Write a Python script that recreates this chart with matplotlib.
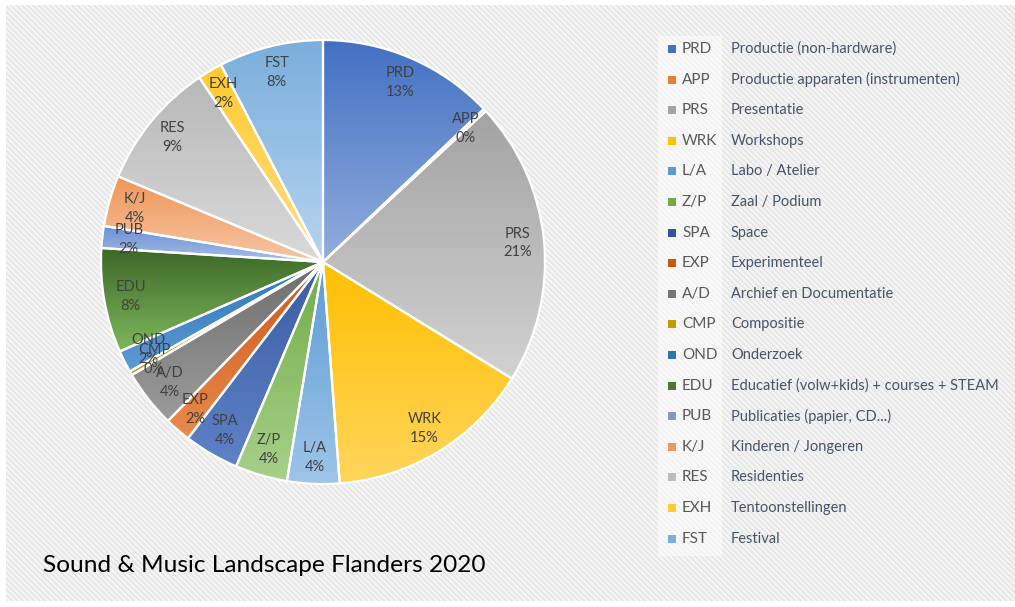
import numpy as np
import matplotlib
matplotlib.use("Agg")
import matplotlib.pyplot as plt
from matplotlib.colors import LinearSegmentedColormap
from matplotlib.patches import Rectangle

plt.rcParams["font.family"] = ["Lato", "DejaVu Sans"]
plt.rcParams["hatch.linewidth"] = 0.7

# ---------- DATA ----------
codes = ["PRD", "APP", "PRS", "WRK", "L/A", "Z/P", "SPA", "EXP", "A/D",
         "CMP", "OND", "EDU", "PUB", "K/J", "RES", "EXH", "FST"]
descriptions = [
    "Productie (non-hardware)",
    "Productie apparaten (instrumenten)",
    "Presentatie",
    "Workshops",
    "Labo / Atelier",
    "Zaal / Podium",
    "Space",
    "Experimenteel",
    "Archief en Documentatie",
    "Compositie",
    "Onderzoek",
    "Educatief (volw+kids) + courses + STEAM",
    "Publicaties (papier, CD...)",
    "Kinderen / Jongeren",
    "Residenties",
    "Tentoonstellingen",
    "Festival",
]
shares = [12.9, 0.2, 20.7, 15.0, 3.8, 3.8, 4.0, 1.9, 4.2,
          0.3, 1.6, 7.6, 1.6, 3.7, 9.3, 1.8, 7.6]
title = "Sound & Music Landscape Flanders 2020"

# Excel-ish palette: (top of gradient, bottom of gradient)
top_colors = ["#4270c2", "#e2772c", "#a3a3a3", "#ffbf00", "#5b9bd5", "#6fac46",
              "#3a5ba3", "#c8591a", "#6e6e6e", "#9f7800", "#2e75b6", "#3c6727",
              "#6b8fd1", "#ef9658", "#b8b8b8", "#ffca2e", "#7aaedc"]
bot_colors = ["#93aede", "#f4a470", "#d2d2d2", "#ffd55c", "#9fc5e8", "#a8d18b",
              "#5e82c8", "#ea8a4a", "#9c9c9c", "#c99e1c", "#5d9bd6", "#7db85c",
              "#a7bfea", "#f7c6a4", "#dadada", "#ffdf85", "#b6d5ef"]
legend_colors = ["#4472c4", "#ed7d31", "#a5a5a5", "#ffc000", "#5b9bd5", "#70ad47",
                 "#2f55a0", "#c55a11", "#757575", "#c99a00", "#2e75b6", "#4a7a30",
                 "#7a9ad6", "#f1975a", "#bdbdbd", "#ffcd33", "#7cafdd"]

W, H = 1015, 607
fig = plt.figure(figsize=(W / 100, H / 100), dpi=100)
fig.patch.set_facecolor("white")

# ---------- BACKGROUND (pixel coords) ----------
bg = fig.add_axes([0, 0, 1, 1], zorder=0)
bg.set_xlim(0, W)
bg.set_ylim(H, 0)
bg.axis("off")
bg.add_patch(Rectangle((6, 5), W - 6, H - 11, facecolor="#f4f4f4",
                       edgecolor="#dedede", hatch="\\" * 6, linewidth=0))
# lighter panel behind legend codes
bg.add_patch(Rectangle((658, 36), 64, 520, facecolor="white",
                       edgecolor="none", alpha=0.5))

# ---------- PIE ----------
cx, cy, R = 323, 262, 222
box = 226
ax = fig.add_axes([(cx - box) / W, (H - cy - box) / H, 2 * box / W, 2 * box / H],
                  zorder=1)
ax.patch.set_visible(False)

wedges, _ = ax.pie(shares, startangle=90, counterclock=False,
                   radius=R / box,
                   wedgeprops=dict(edgecolor="white", linewidth=1.6))

vals = np.array(shares)
pcts = vals / vals.sum() * 100

for w, c_top, c_bot in zip(wedges, top_colors, bot_colors):
    verts = w.get_patch_transform().transform(w.get_path().vertices)
    x0, y0 = verts.min(axis=0)
    x1, y1 = verts.max(axis=0)
    cmap = LinearSegmentedColormap.from_list("g", [c_bot, c_top])
    grad = np.linspace(0, 1, 256).reshape(-1, 1)
    im = ax.imshow(grad, cmap=cmap, origin="lower", aspect="auto",
                   extent=(x0, x1, y0, y1), zorder=0.5, interpolation="bilinear")
    im.set_clip_path(w)
    w.set_facecolor("none")
    w.set_zorder(1)

# labels inside slices
for w, code, p in zip(wedges, codes, pcts):
    ang = np.deg2rad((w.theta1 + w.theta2) / 2)
    r = 0.88 * w.r
    ax.text(r * np.cos(ang), r * np.sin(ang), f"{code}\n{p:.0f}%",
            ha="center", va="center", fontsize=10.5, color="#404040",
            linespacing=1.45, zorder=3)

ax.set_xlim(-1, 1)
ax.set_ylim(-1, 1)
ax.set_aspect("equal")
ax.axis("off")

# ---------- LEGEND ----------
row0, step = 49, 30.6
for i, (code, desc, col) in enumerate(zip(codes, descriptions, legend_colors)):
    y = row0 + i * step
    bg.add_patch(Rectangle((668, y - 4), 8, 8, facecolor=col, edgecolor="none"))
    bg.text(682, y, code, ha="left", va="center", fontsize=11,
            color="#595959")
    bg.text(731, y, desc, ha="left", va="center", fontsize=10.5,
            color="#44546a")

# ---------- TITLE ----------
bg.text(43, 566, title, ha="left", va="center", fontsize=17.6, color="black")

fig.savefig("out.png", dpi=100)
